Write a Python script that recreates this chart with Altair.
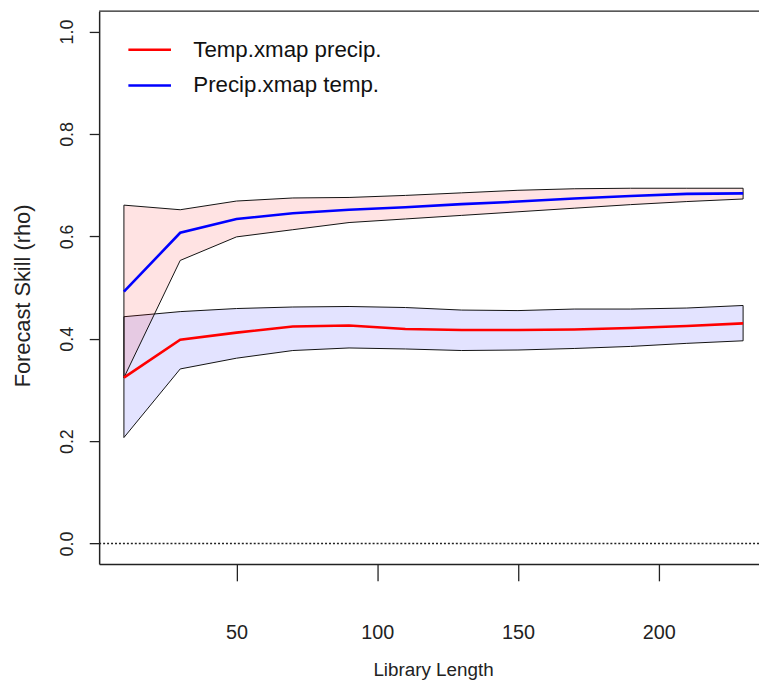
import altair as alt
import pandas as pd

lib = [10, 30, 50, 70, 90, 110, 130, 150, 170, 190, 210, 230]

temp_rho = [0.324, 0.398, 0.412, 0.424, 0.426, 0.419, 0.417, 0.417, 0.418, 0.421, 0.425, 0.430]
temp_lo = [0.207, 0.341, 0.362, 0.377, 0.382, 0.380, 0.377, 0.378, 0.381, 0.385, 0.391, 0.396]
temp_hi = [0.443, 0.453, 0.459, 0.462, 0.463, 0.461, 0.456, 0.455, 0.458, 0.458, 0.460, 0.465]

precip_rho = [0.492, 0.607, 0.634, 0.645, 0.652, 0.657, 0.663, 0.668, 0.674, 0.679, 0.683, 0.684]
precip_lo = [0.324, 0.553, 0.599, 0.613, 0.627, 0.634, 0.641, 0.648, 0.655, 0.662, 0.668, 0.673]
precip_hi = [0.661, 0.652, 0.669, 0.675, 0.676, 0.680, 0.685, 0.690, 0.693, 0.694, 0.694, 0.694]

series_names = ["Temp.xmap precip.", "Precip.xmap temp."]
line_colors = ["#ff0000", "#0000ff"]
band_colors = ["#0000ff", "#ff0000"]  # bands are shaded in the opposite colour

x_ticks = [50, 100, 150, 200]
y_ticks = [0.0, 0.2, 0.4, 0.6, 0.8, 1.0]

rows = []
for s, rho, lo, hi in [
    (series_names[0], temp_rho, temp_lo, temp_hi),
    (series_names[1], precip_rho, precip_lo, precip_hi),
]:
    for L, r, a, b in zip(lib, rho, lo, hi):
        rows.append({"series": s, "lib": L, "rho": r, "lo": a, "hi": b})
df = pd.DataFrame(rows)

W, H = 666, 558
FONT = "Liberation Sans, Arial, sans-serif"

xscale = alt.Scale(domain=[1.2, 235.65], nice=False, zero=False)
yscale = alt.Scale(domain=[-0.04, 1.04], nice=False, zero=False)

xaxis = alt.Axis(
    values=x_ticks, title="Library Length", grid=False,
    tickSize=17, tickColor="#222", tickWidth=1.3,
    domainColor="#222", domainWidth=1.5,
    labelFont=FONT, labelFontSize=20, labelColor="#222", labelPadding=42,
    titleFont=FONT, titleFontSize=19, titleFontWeight="normal", titleColor="#222",
    titleX=337, titleY=113, titleBaseline="alphabetic",
)
yaxis = alt.Axis(
    values=y_ticks, format=".1f", title="Forecast Skill (rho)", grid=False,
    tickSize=10, tickColor="#222", tickWidth=1.3,
    domainColor="#222", domainWidth=1.5,
    labelFont=FONT, labelFontSize=18, labelColor="#222", labelAngle=270,
    labelAlign="center", labelBaseline="alphabetic", labelPadding=17,
    titleFont=FONT, titleFontSize=22, titleFontWeight="normal", titleColor="#222",
    titleX=-70, titleY=287, titleBaseline="alphabetic",
)

base = alt.Chart(df)

bands = base.mark_area(fillOpacity=0.11, stroke="#111", strokeWidth=1).encode(
    x=alt.X("lib:Q", scale=xscale, axis=xaxis),
    y=alt.Y("lo:Q", scale=yscale, axis=yaxis),
    y2="hi:Q",
    fill=alt.Fill("series:N", scale=alt.Scale(domain=series_names, range=band_colors), legend=None),
    detail="series:N",
)

lines = base.mark_line(strokeWidth=2.6).encode(
    x=alt.X("lib:Q", scale=xscale),
    y=alt.Y("rho:Q", scale=yscale),
    color=alt.Color(
        "series:N",
        scale=alt.Scale(domain=series_names, range=line_colors),
        legend=alt.Legend(
            title=None, orient="none", legendX=28, legendY=16,
            symbolType="stroke", symbolSize=1849, symbolStrokeWidth=2.6,
            labelFont=FONT, labelFontSize=22.5, labelColor="#111", labelLimit=0,
            labelOffset=21, rowPadding=1, padding=0,
        ),
    ),
)

zero = alt.Chart(pd.DataFrame({"z": [0.0]})).mark_rule(
    color="#222", strokeWidth=1.3, strokeDash=[2, 2]
).encode(y=alt.Y("z:Q", scale=yscale))

top = alt.Chart(pd.DataFrame({"z": [0]})).mark_rule(color="#222", strokeWidth=1.5).encode(
    y=alt.value(0)
)

chart = alt.layer(bands, zero, lines, top).properties(
    width=W, height=H,
    autosize=alt.AutoSizeParams(type="none"),
    padding={"left": 92, "top": 0, "right": 0, "bottom": 120},
).configure_view(strokeWidth=0).resolve_scale(fill="independent", color="independent")

chart.save("out.html", embed_options={"renderer": "svg", "actions": False})
